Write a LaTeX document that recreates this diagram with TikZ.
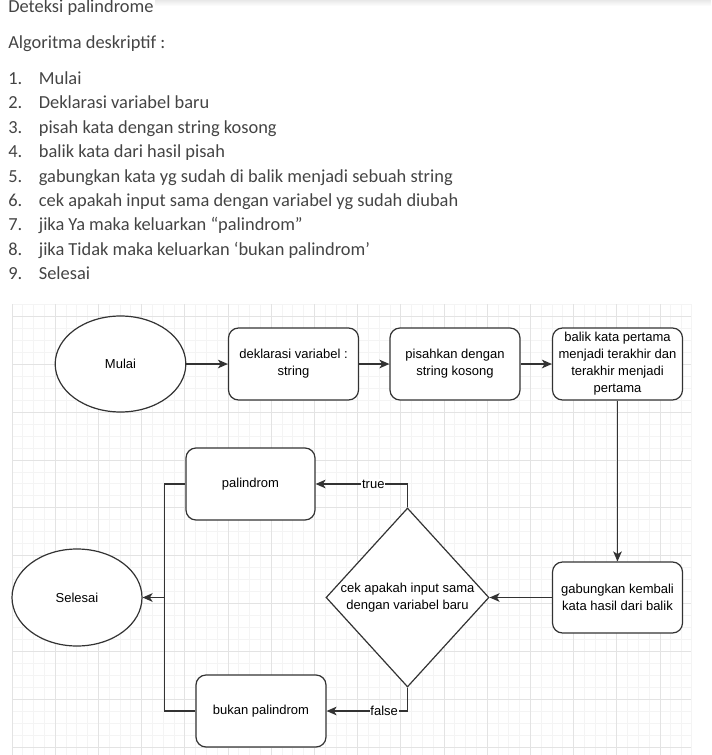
\documentclass[tikz,border=0pt]{standalone}
\usepackage{fontspec}
\setmainfont{Liberation Sans}
\newfontfamily\docfont{Carlito}
\usetikzlibrary{arrows.meta, shapes.geometric, calc}
\definecolor{doctext}{HTML}{444444}
\definecolor{flowline}{HTML}{333333}
\newcommand\flowfont{\fontsize{9.75}{12.75}\selectfont}

\begin{document}
\begin{tikzpicture}[x=0.75pt, y=-0.75pt,
    doc/.style={anchor=base west, inner sep=0pt, text=doctext, font=\docfont\fontsize{13.8}{16}\selectfont},
    gridminor/.style={draw=gray!9, line width=0.5pt},
    gridmajor/.style={draw=gray!22, line width=0.6pt},
    terminal/.style={ellipse, draw=flowline, line width=0.9pt, fill=white, minimum width=98pt, minimum height=72pt, font=\flowfont},
    process/.style={rectangle, rounded corners=7.5pt, draw=flowline, line width=0.9pt, fill=white, minimum width=97.5pt, minimum height=54pt, align=center, font=\flowfont, inner sep=1pt},
    decision/.style={diamond, draw=flowline, line width=0.9pt, fill=white, minimum width=122.25pt, minimum height=134.25pt, inner sep=0pt},
    line/.style={draw=flowline, line width=0.9pt},
    arr/.style={line, -{Stealth[length=7.5pt, width=6.5pt, inset=2pt]}},
    edgelabel/.style={fill=white, inner sep=0.5pt, font=\flowfont}]
    \useasboundingbox (0,0) rectangle (711,755);
    \shade[top color=gray!18, bottom color=white] (155,0) rectangle (711,6);

    % description text
    \node[doc] (title) at (8,12.7) {Deteksi palindrome};
    \node[doc] (algo) at (8,48.3) {Algoritma deskriptif :};
    \foreach \n/\t in {1/Mulai, 2/Deklarasi variabel baru, 3/pisah kata dengan string kosong,
        4/balik kata dari hasil pisah, 5/gabungkan kata yg sudah di balik menjadi sebuah string,
        6/cek apakah input sama dengan variabel yg sudah diubah, 7/jika Ya maka keluarkan “palindrom”,
        8/jika Tidak maka keluarkan ‘bukan palindrom’, 9/Selesai} {
        \node[doc] (num\n) at (8,{84.5+24.4*(\n-1)}) {\n.};
        \node[doc] (item\n) at (38.6,{84.5+24.4*(\n-1)}) {\t};
    }

    % grid
    \foreach \i in {0,...,62}
        \draw[gridminor] ({12+10.8*\i},304.4) -- ({12+10.8*\i},755);
    \foreach \j in {0,...,37}
        \draw[gridminor] (12,{304.4+11.96*\j}) -- (691,{304.4+11.96*\j});
    \draw[gridminor] (691,304.4) -- (691,755);
    \foreach \i in {0,...,15}
        \draw[gridmajor] ({12+43.2*\i},304.4) -- ({12+43.2*\i},755);
    \foreach \j in {0,...,9}
        \draw[gridmajor] (12,{316.4+47.84*\j}) -- (691,{316.4+47.84*\j});

    % flowchart
    \node[terminal] at (120.5,364) (mulai) {Mulai};
    \node[process] at (293.5,364) (deklarasi) {deklarasi variabel :\\string};
    \node[process] at (455,364) (pisah) {pisahkan dengan\\string kosong};
    \node[process] at (617.5,364) (balik) {balik kata pertama\\menjadi terakhir dan\\terakhir menjadi\\pertama};
    \node[process, minimum height=53.25pt] at (617.5,597.5) (gabung) {gabungkan kembali\\kata hasil dari balik};
    \node[decision] at (407.5,597.5) (cek) {};
    \node[align=center, font=\flowfont, inner sep=0pt] at (cek) (cektext) {cek apakah input sama\\dengan variabel baru};
    \node[process, minimum width=96.75pt] at (250.5,484) (palindrom) {palindrom};
    \node[process] at (261,711) (bukan) {bukan palindrom};
    \node[terminal, minimum width=97.5pt, minimum height=72.75pt] at (77,597.5) (selesai) {Selesai};
    \coordinate (join) at (164.5,597.5);

    \draw[arr] (mulai) -- (deklarasi);
    \draw[arr] (deklarasi) -- (pisah);
    \draw[arr] (pisah) -- (balik);
    \draw[arr] (balik) -- (gabung);
    \draw[arr] (gabung) -- (cek);
    \draw[arr] (cek.north) |- (palindrom.east) node[edgelabel, pos=0.686] (truelabel) {true};
    \draw[arr] (cek.south) |- (bukan.east) node[edgelabel, pos=0.644] (falselabel) {false};
    \draw[line] (palindrom.west) -| (join);
    \draw[line] (bukan.west) -| (join);
    \draw[arr] (join) -- (selesai.east);
\end{tikzpicture}
\end{document}
